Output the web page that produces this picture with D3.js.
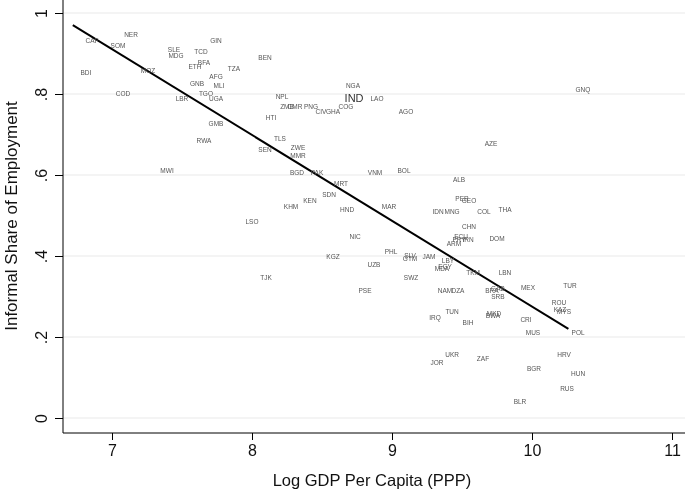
<!DOCTYPE html>
<html>
<head>
<meta charset="utf-8">
<script src="https://cdn.jsdelivr.net/npm/d3@7"></script>
<style>
  html, body { margin: 0; padding: 0; background: #fff; }
  svg { display: block; font-family: "Liberation Sans", Arial, Helvetica, sans-serif; will-change: transform; -webkit-font-smoothing: antialiased; }
</style>
</head>
<body>
<svg id="chart" width="685" height="490"></svg>
<script>
// ---- Data ----
const countries = ["NER","CAF","SOM","BDI","COD","MOZ","SLE","MDG","TCD","GIN","ETH","BFA","TZA","AFG","GNB","MLI","TGO","LBR","UGA","GMB","BEN","NGA","IND","LAO","NPL","ZMB","CMR","PNG","CIV","GHA","COG","AGO","HTI","TLS","SEN","ZWE","MMR","BGD","PAK","VNM","BOL","MRT","SDN","GNQ","AZE","ALB","RWA","MWI","KHM","KEN","LSO","HND","MAR","NIC","KGZ","UZB","PHL","SLV","GTM","JAM","IDN","MNG","PER","GEO","COL","THA","CHN","ECU","PRY","IRN","ARM","DOM","LBY","EGY","MDA","TKM","LBN","MEX","TUR","SWZ","NAM","DZA","BRA","GAB","SRB","IRQ","TUN","BIH","MKD","BWA","CRI","MUS","ROU","KAZ","MYS","POL","UKR","JOR","ZAF","BGR","HRV","HUN","RUS","BLR","TJK","PSE"];
const logGdp = [7.136,6.857,7.043,6.814,7.079,7.257,7.443,7.457,7.636,7.743,7.593,7.657,7.871,7.743,7.607,7.764,7.671,7.500,7.743,7.743,8.093,8.721,8.729,8.893,8.214,8.250,8.307,8.421,8.493,8.579,8.671,9.100,8.136,8.200,8.093,8.329,8.329,8.321,8.464,8.879,9.086,8.636,8.550,10.364,9.707,9.479,7.657,7.393,8.279,8.414,8.000,8.679,8.979,8.736,8.579,8.871,8.993,9.129,9.129,9.264,9.329,9.429,9.500,9.550,9.657,9.807,9.550,9.493,9.479,9.543,9.443,9.750,9.400,9.379,9.357,9.579,9.807,9.971,10.271,9.136,9.379,9.471,9.714,9.757,9.757,9.307,9.429,9.543,9.729,9.721,9.957,10.007,10.193,10.200,10.229,10.329,9.429,9.321,9.650,10.014,10.229,10.329,10.250,9.914,8.100,8.807];
const informal = [0.948,0.933,0.919,0.852,0.802,0.859,0.909,0.894,0.904,0.931,0.869,0.877,0.862,0.842,0.827,0.822,0.802,0.788,0.788,0.728,0.891,0.822,0.790,0.790,0.795,0.770,0.770,0.768,0.756,0.756,0.770,0.756,0.741,0.689,0.664,0.667,0.649,0.605,0.605,0.607,0.612,0.578,0.553,0.812,0.677,0.590,0.684,0.612,0.523,0.536,0.486,0.514,0.521,0.447,0.398,0.380,0.410,0.402,0.395,0.398,0.509,0.509,0.541,0.536,0.509,0.516,0.474,0.449,0.440,0.440,0.430,0.442,0.390,0.375,0.368,0.360,0.360,0.323,0.328,0.346,0.314,0.314,0.314,0.319,0.301,0.249,0.262,0.237,0.259,0.252,0.242,0.210,0.286,0.269,0.262,0.210,0.158,0.136,0.146,0.121,0.158,0.109,0.072,0.040,0.348,0.314];
const highlighted = ["IND"];
// fitted line endpoints
const fitX = [6.72, 10.26];
const fitY = [0.970, 0.220];
// ticks
const xTicks = [7, 8, 9, 10, 11];
const yTicks = [0, 0.2, 0.4, 0.6, 0.8, 1];
const yTickLabels = ["0", ".2", ".4", ".6", ".8", "1"];
const xTitle = "Log GDP Per Capita (PPP)";
const yTitle = "Informal Share of Employment";

// ---- Layout ----
const svg = d3.select("#chart");
const axisLeftX = 63, axisBottomY = 433, rightEdge = 685, topEdge = 0;
const x = d3.scaleLinear().domain([7, 11]).range([112, 672]);
const y = d3.scaleLinear().domain([0, 1]).range([418, 13]);

// gridlines
svg.append("g").selectAll("line").data(yTicks).join("line")
  .attr("x1", axisLeftX).attr("x2", rightEdge)
  .attr("y1", d => y(d)).attr("y2", d => y(d))
  .attr("stroke", "#eaeaea").attr("stroke-width", 1.2);

// axes lines
svg.append("line").attr("x1", axisLeftX).attr("x2", axisLeftX)
  .attr("y1", topEdge).attr("y2", axisBottomY)
  .attr("stroke", "#000").attr("stroke-width", 1);
svg.append("line").attr("x1", axisLeftX).attr("x2", rightEdge)
  .attr("y1", axisBottomY).attr("y2", axisBottomY)
  .attr("stroke", "#000").attr("stroke-width", 1);

// x axis via d3.axisBottom
const xAxis = d3.axisBottom(x).tickValues(xTicks).tickSize(7).tickPadding(5).tickFormat(d3.format("d"));
const gx = svg.append("g").attr("transform", `translate(0,${axisBottomY})`).call(xAxis);
gx.select(".domain").remove();
gx.selectAll("text").attr("font-size", 16).attr("fill", "#111")
  .attr("font-family", "Liberation Sans, Arial, sans-serif");

// y axis via d3.axisLeft
const yAxis = d3.axisLeft(y).tickValues(yTicks).tickSize(8).tickFormat((d, i) => yTickLabels[i]);
const gy = svg.append("g").attr("transform", `translate(${axisLeftX},0)`).call(yAxis);
gy.select(".domain").remove();
gy.selectAll("text")
  .attr("font-size", 16).attr("fill", "#111")
  .attr("font-family", "Liberation Sans, Arial, sans-serif")
  .attr("text-anchor", "middle")
  .attr("dy", null)
  .attr("x", null)
  .attr("y", 0)
  .attr("dominant-baseline", "central")
  .attr("transform", "translate(-22,0) rotate(-90)");

// titles
svg.append("text").attr("x", 372).attr("y", 486)
  .attr("text-anchor", "middle").attr("font-size", 16.5).attr("fill", "#111")
  .text(xTitle);
svg.append("text").attr("transform", "translate(17,216) rotate(-90)")
  .attr("text-anchor", "middle").attr("font-size", 17).attr("fill", "#111")
  .text(yTitle);

// fitted line
svg.append("line")
  .attr("x1", x(fitX[0])).attr("y1", y(fitY[0]))
  .attr("x2", x(fitX[1])).attr("y2", y(fitY[1]))
  .attr("stroke", "#000").attr("stroke-width", 2);

// country labels
const pts = countries.map((c, i) => ({c, gx: logGdp[i], s: informal[i]}));
svg.append("g").selectAll("text").data(pts).join("text")
  .attr("x", d => x(d.gx)).attr("y", d => y(d.s))
  .attr("text-anchor", "middle").attr("dominant-baseline", "central")
  .attr("font-size", d => highlighted.includes(d.c) ? 11 : 6.5)
  .attr("fill", d => highlighted.includes(d.c) ? "#333" : "#555")
  .text(d => d.c);
</script>
</body>
</html>
